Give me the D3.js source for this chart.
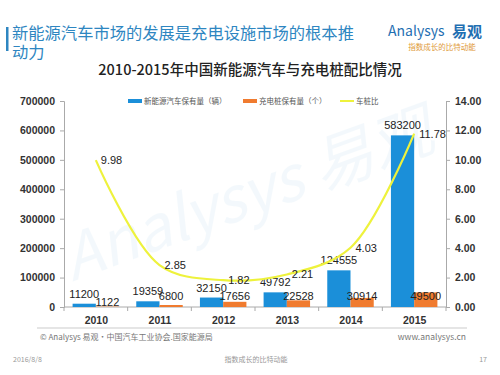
<!DOCTYPE html>
<html>
<head>
<meta charset="utf-8">
<script src="https://cdn.jsdelivr.net/npm/d3@7"></script>
<style>
  body { margin: 0; background: #fff; }
  svg { font-family: "Noto Sans CJK SC", "Noto Sans", sans-serif; }
</style>
</head>
<body>
<svg id="chart" width="500" height="375"></svg>
<script>
var years = ["2010", "2011", "2012", "2013", "2014", "2015"];
var cars = [11200, 19359, 32150, 49792, 124555, 583200];
var piles = [1122, 6800, 17656, 22528, 30914, 49500];
var ratio = [9.98, 2.85, 1.82, 2.21, 4.03, 11.78];
var leftTicks = [0, 100000, 200000, 300000, 400000, 500000, 600000, 700000];
var rightTicks = [0, 2, 4, 6, 8, 10, 12, 14];
var seriesNames = ["新能源汽车保有量（辆）", "充电桩保有量（个）", "车桩比"];

var svg = d3.select("#chart");
var margin = {top: 101, right: 54, bottom: 68, left: 64};
var width = 500 - margin.left - margin.right;
var height = 375 - margin.top - margin.bottom;

var blue = "#1b8fd9", orange = "#f07b2f", yellow = "#eef23c";

// watermark
svg.append("text")
    .attr("x", 255).attr("y", 215)
    .attr("transform", "rotate(-20,255,215)")
    .attr("text-anchor", "middle")
    .attr("font-size", 62).attr("font-style", "italic")
    .attr("fill", "#2a8fd0").attr("opacity", 0.05)
    .text("Analysys 易观");

// header
svg.append("rect").attr("x", 6).attr("y", 27).attr("width", 2.5).attr("height", 24).attr("fill", "#2e86c1");
svg.append("text").attr("x", 12).attr("y", 39).attr("font-size", 16.3).attr("fill", "#2e86c1")
    .text("新能源汽车市场的发展是充电设施市场的根本推");
svg.append("text").attr("x", 12).attr("y", 58).attr("font-size", 16.3).attr("fill", "#2e86c1")
    .text("动力");
svg.append("text").attr("x", 388).attr("y", 36).attr("font-size", 14)
    .attr("fill", "#1f6fb2").text("Analysys");
svg.append("text").attr("x", 452).attr("y", 37).attr("font-size", 15).attr("font-weight", "bold")
    .attr("fill", "#1f6fb2").text("易观");
svg.append("text").attr("x", 442).attr("y", 50).attr("text-anchor", "middle").attr("font-size", 7.5)
    .attr("fill", "#e09a3a").text("指数成长的比特动能");
svg.append("text").attr("x", 250).attr("y", 75).attr("text-anchor", "middle")
    .attr("font-size", 14.5).attr("font-weight", 500).attr("fill", "#222")
    .text("2010-2015年中国新能源汽车与充电桩配比情况");

var g = svg.append("g")
    .attr("transform", "translate(" + margin.left + "," + margin.top + ")");

var x = d3.scaleBand().domain(years).range([0, width]).paddingInner(0.27).paddingOuter(0.135);
var xs = d3.scaleBand().domain([0, 1]).range([0, x.bandwidth()]);
var y = d3.scaleLinear().domain([0, 700000]).range([height, 0]);
var y2 = d3.scaleLinear().domain([0, 14]).range([height, 0]);
var xc = d3.scalePoint().domain(years).range([0, width]).padding(0.5);

// axes
var axisColor = "#aaa";
var la = g.append("g")
    .call(d3.axisLeft(y).tickValues(leftTicks).tickSize(4).tickFormat(d3.format("d")));
var ra = g.append("g").attr("transform", "translate(" + width + ",0)")
    .call(d3.axisRight(y2).tickValues(rightTicks).tickSize(4).tickFormat(d3.format(".2f")));
var ba = g.append("g").attr("transform", "translate(0," + height + ")")
    .call(d3.axisBottom(xc).tickSize(0).tickPadding(10));
[la, ra, ba].forEach(function(a) {
    a.selectAll("path,line").attr("stroke", axisColor);
    a.selectAll("text").attr("fill", "#333").attr("font-size", 10.5).attr("font-weight", "bold")
        .attr("font-family", "Liberation Sans, sans-serif");
});
la.selectAll("text").attr("x", -9);
ra.selectAll("text").attr("x", 9);
ba.select(".domain").remove();
g.append("line").attr("x1", 0).attr("x2", width).attr("y1", height).attr("y2", height).attr("stroke", axisColor);
g.selectAll(".sep").data(d3.range(years.length + 1)).enter().append("line")
    .attr("x1", function(i) { return i * width / years.length; })
    .attr("x2", function(i) { return i * width / years.length; })
    .attr("y1", height).attr("y2", height + 4).attr("stroke", axisColor);

// bars
var groups = g.selectAll(".yr").data(years).enter().append("g")
    .attr("transform", function(d) { return "translate(" + x(d) + ",0)"; });
groups.append("rect")
    .attr("x", xs(0)).attr("width", xs.bandwidth())
    .attr("y", function(d, i) { return y(cars[i]); })
    .attr("height", function(d, i) { return height - y(cars[i]); })
    .attr("fill", blue);
groups.append("rect")
    .attr("x", xs(1)).attr("width", xs.bandwidth())
    .attr("y", function(d, i) { return y(piles[i]); })
    .attr("height", function(d, i) { return height - y(piles[i]); })
    .attr("fill", orange);

// line
var line = d3.line()
    .x(function(d, i) { return xc(years[i]); })
    .y(function(d) { return y2(d); })
    .curve(d3.curveCatmullRom.alpha(0.5));
g.append("path").datum(ratio)
    .attr("fill", "none").attr("stroke", yellow).attr("stroke-width", 2.2)
    .attr("d", line);

// labels
var lab = {"font-size": 11, "fill": "#222", "font-family": "Liberation Sans, sans-serif"};
function styleLab(s) { for (var k in lab) s.attr(k, lab[k]); return s; }
styleLab(groups.append("text")
    .attr("x", xs(0) + xs.bandwidth() / 2).attr("text-anchor", "middle")
    .attr("y", function(d, i) { return y(cars[i]) - 6; })
    .text(function(d, i) { return cars[i]; }));
// pile labels sit low, overlapping the bar tops as in the source chart
styleLab(groups.append("text")
    .attr("x", xs(1) + xs.bandwidth() / 2).attr("text-anchor", "middle")
    .attr("y", function(d, i) { return i === 0 ? height - 1 : height - 7; })
    .text(function(d, i) { return piles[i]; }));
styleLab(g.selectAll(".rl").data(ratio).enter().append("text")
    .attr("x", function(d, i) { return xc(years[i]) + 5; })
    .attr("y", function(d) { return y2(d); })
    .attr("dy", "0.35em")
    .text(function(d) { return d.toFixed(2); }));

// legend
var lg = svg.append("g").attr("transform", "translate(128,101)");
var lx = [0, 115, 212];
lg.append("rect").attr("x", lx[0]).attr("y", -2).attr("width", 14).attr("height", 4).attr("fill", blue);
lg.append("rect").attr("x", lx[1]).attr("y", -2).attr("width", 14).attr("height", 4).attr("fill", orange);
lg.append("line").attr("x1", lx[2]).attr("x2", lx[2] + 14).attr("y1", 0).attr("y2", 0)
    .attr("stroke", yellow).attr("stroke-width", 2);
lg.selectAll(".lt").data(seriesNames).enter().append("text")
    .attr("x", function(d, i) { return lx[i] + 16; }).attr("y", 0).attr("dy", "0.35em")
    .attr("font-size", 7.5).attr("fill", "#555")
    .text(function(d) { return d; });

// footer
svg.append("line").attr("x1", 37).attr("x2", 467).attr("y1", 328).attr("y2", 328)
    .attr("stroke", "#ddd").attr("stroke-width", 1.5);
svg.append("text").attr("x", 40).attr("y", 340).attr("font-size", 8).attr("fill", "#777")
    .text("© Analysys 易观·中国汽车工业协会.国家能源局");
svg.append("text").attr("x", 466).attr("y", 340).attr("text-anchor", "end").attr("font-size", 8.5)
    .attr("fill", "#777").text("www.analysys.cn");
svg.append("text").attr("x", 13).attr("y", 362).attr("font-size", 7).attr("fill", "#999").text("2016/8/8");
svg.append("text").attr("x", 256).attr("y", 362).attr("text-anchor", "middle").attr("font-size", 7)
    .attr("fill", "#999").text("指数成长的比特动能");
svg.append("text").attr("x", 487).attr("y", 362).attr("text-anchor", "end").attr("font-size", 7)
    .attr("fill", "#999").text("17");
</script>
</body>
</html>
